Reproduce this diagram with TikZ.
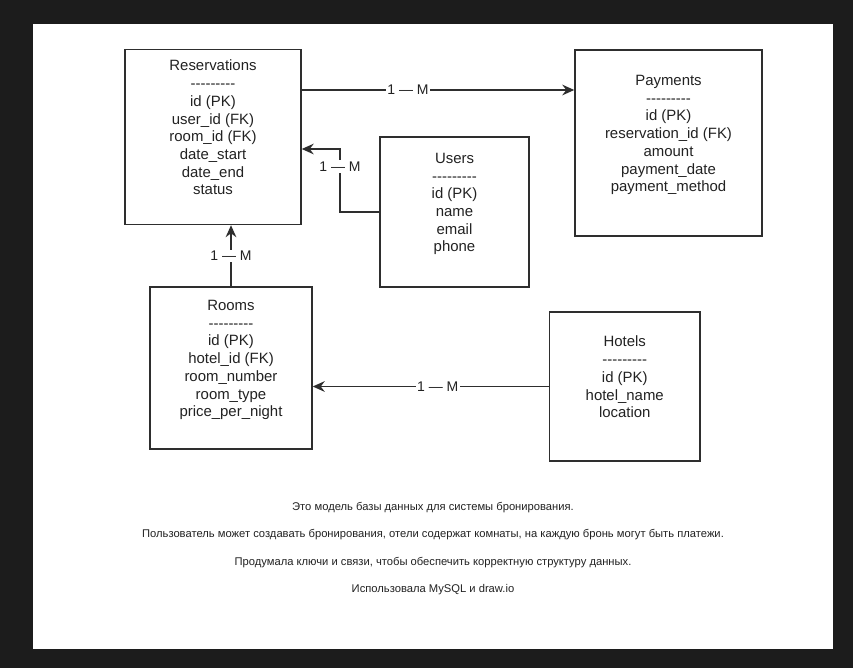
\documentclass[tikz,border=0pt]{standalone}
\usepackage{fontspec}
\setmainfont{Liberation Sans}
\usetikzlibrary{arrows.meta}
\definecolor{BgDark}{HTML}{1C1C1C}
\definecolor{LineGray}{HTML}{2E2E2E}
\definecolor{TextGray}{HTML}{222222}
\newcommand\sepline{\mbox{-}\mbox{-}\mbox{-}\mbox{-}\mbox{-}\mbox{-}\mbox{-}\mbox{-}\mbox{-}}

\begin{document}
\begin{tikzpicture}[x=0.75pt,y=-0.75pt,
      every node/.append style={font=\fontsize{11.2}{13.3}\selectfont,text=TextGray},
      table/.style={draw=LineGray,line width=1.1pt,align=center,inner sep=0pt},
      rel/.style={draw=LineGray,line width=1.1pt,-{Stealth[length=9pt,width=8pt,inset=3pt]}},
      card/.style={fill=white,inner sep=1pt,font=\fontsize{10.5}{12}\selectfont},
      note/.style={font=\fontsize{8.4}{10}\selectfont}]
    \fill[BgDark] (0,0) rectangle (853,668);
    \fill[white] (33,24) rectangle (833,649);
    \node (res) [table,minimum width=132pt,minimum height=131.25pt] at (213,137)
      {Reservations\\\sepline\\id (PK)\\user\_id (FK)\\room\_id (FK)\\date\_start\\date\_end\\status\\[-3pt]\strut};
    \node (pay) [table,minimum width=140.25pt,minimum height=139.5pt] at (668.5,143)
      {Payments\\\sepline\\id (PK)\\reservation\_id (FK)\\amount\\payment\_date\\payment\_method\\[-3pt]\strut};
    \node (users) [table,minimum width=111.75pt,minimum height=112.5pt] at (454.5,212)
      {Users\\\sepline\\id (PK)\\name\\email\\phone\\[-3pt]\strut};
    \node (rooms) [table,minimum width=121.5pt,minimum height=121.5pt] at (231,368)
      {Rooms\\\sepline\\id (PK)\\hotel\_id (FK)\\room\_number\\room\_type\\price\_per\_night\\[-3pt]\strut};
    \node (hotels) [table,minimum width=113pt,minimum height=111.75pt] at (624.75,386.5)
      {Hotels\\\sepline\\id (PK)\\hotel\_name\\location\\[-3pt]\strut};
    \draw [rel] (res.east |- 0,90) -- node [card,pos=0.39] {1 — M} (pay.west |- 0,90);
    \draw [rel] (users.west) -- (340,212) -- node [card,pos=0.72] {1 — M} (340,149) -- (res.east |- 0,149);
    \draw [rel] (rooms.north) -- node [card] {1 — M} (res.south -| rooms.north);
    \draw [rel] (hotels.west) -- node [card,pos=0.47] {1 — M} (rooms.east |- hotels.west);
    \node (note1) [note] at (433,508) {Это модель базы данных для системы бронирования.};
    \node (note2) [note] at (433,534.7) {Пользователь может создавать бронирования, отели содержат комнаты, на каждую бронь могут быть платежи.};
    \node (note3) [note] at (433,562.4) {Продумала ключи и связи, чтобы обеспечить корректную структуру данных.};
    \node (note4) [note] at (433,590) {Использовала MySQL и draw.io};
  \end{tikzpicture}
\end{document}
